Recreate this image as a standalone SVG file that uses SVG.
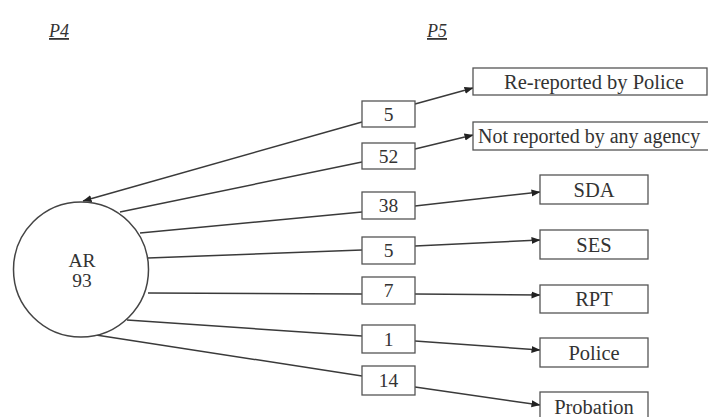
<svg xmlns="http://www.w3.org/2000/svg" width="708" height="417" viewBox="0 0 708 417">
<defs>
<style>
.box{fill:#fff;stroke:#555;stroke-width:1.3}
.t{font-family:"Liberation Serif","Times New Roman",serif;font-size:19.5px;fill:#333;text-anchor:middle}
.tw{font-size:20.5px}
.lab{font-family:"Liberation Serif","Times New Roman",serif;font-size:18px;font-style:italic;fill:#333;text-anchor:middle;text-decoration:underline}
.ln{fill:none;stroke:#3a3a3a;stroke-width:1.5}
</style>
<marker id="ah" markerWidth="9" markerHeight="8" refX="8.5" refY="4" orient="auto" markerUnits="userSpaceOnUse">
<path d="M0,0.5 L9,4 L0,7.5 Z" fill="#222"/>
</marker>
</defs>
<rect width="708" height="417" fill="#fff"/>
<text class="lab" x="59" y="37">P4</text>
<text class="lab" x="437" y="37">P5</text>
<g id="connectors">
<line class="ln" x1="362" y1="122" x2="83" y2="201" marker-end="url(#ah)"/>
<line class="ln" x1="120" y1="212" x2="362" y2="162"/>
<line class="ln" x1="140" y1="233" x2="362" y2="212"/>
<line class="ln" x1="148" y1="258" x2="362" y2="250"/>
<line class="ln" x1="148" y1="293" x2="362" y2="294"/>
<line class="ln" x1="127" y1="320" x2="362" y2="336"/>
<line class="ln" x1="96" y1="335" x2="362" y2="376"/>
<line class="ln" x1="415" y1="104" x2="473" y2="88" marker-end="url(#ah)"/>
<line class="ln" x1="415" y1="149" x2="473" y2="135" marker-end="url(#ah)"/>
<line class="ln" x1="415" y1="206" x2="540" y2="192" marker-end="url(#ah)"/>
<line class="ln" x1="415" y1="246" x2="540" y2="240" marker-end="url(#ah)"/>
<line class="ln" x1="415" y1="294" x2="540" y2="295" marker-end="url(#ah)"/>
<line class="ln" x1="415" y1="341" x2="540" y2="350" marker-end="url(#ah)"/>
<line class="ln" x1="415" y1="387" x2="540" y2="405" marker-end="url(#ah)"/>
</g>
<g id="AR">
<circle cx="81" cy="269.5" r="67.5" fill="#fff" stroke="#444" stroke-width="1.5"/>
<text class="t" x="82" y="267">AR</text>
<text class="t" x="82" y="287">93</text>
</g>
<g id="n5a"><rect class="box" x="362" y="101" width="53" height="26"/><text class="t" x="388.5" y="120.5">5</text></g>
<g id="n52"><rect class="box" x="362" y="143" width="53" height="26"/><text class="t" x="388.5" y="162.5">52</text></g>
<g id="n38"><rect class="box" x="362" y="192" width="53" height="27"/><text class="t" x="388.5" y="212">38</text></g>
<g id="n5b"><rect class="box" x="362" y="237" width="53" height="27"/><text class="t" x="388.5" y="257">5</text></g>
<g id="n7"><rect class="box" x="362" y="277" width="53" height="27"/><text class="t" x="388.5" y="297">7</text></g>
<g id="n1"><rect class="box" x="362" y="325" width="53" height="28"/><text class="t" x="388.5" y="345.5">1</text></g>
<g id="n14"><rect class="box" x="362" y="366" width="53" height="29"/><text class="t" x="388.5" y="387">14</text></g>
<g id="rereported"><rect class="box" x="473" y="68" width="234" height="27"/><text class="t tw" x="594" y="88.5">Re-reported by Police</text></g>
<g id="notreported"><rect class="box" x="473" y="122" width="245" height="28"/><text class="t" x="478" y="143" style="text-anchor:start;font-size:20px">Not reported by any agency</text></g>
<g id="SDA"><rect class="box" x="540" y="175" width="108" height="29"/><text class="t tw" x="594" y="196.5">SDA</text></g>
<g id="SES"><rect class="box" x="540" y="230" width="108" height="29"/><text class="t tw" x="594" y="251.5">SES</text></g>
<g id="RPT"><rect class="box" x="540" y="285" width="108" height="28"/><text class="t tw" x="594" y="306">RPT</text></g>
<g id="Police"><rect class="box" x="540" y="338" width="108" height="29"/><text class="t tw" x="594" y="359.5">Police</text></g>
<g id="Probation"><rect class="box" x="540" y="392" width="108" height="29"/><text class="t tw" x="594" y="413.5">Probation</text></g>
</svg>
